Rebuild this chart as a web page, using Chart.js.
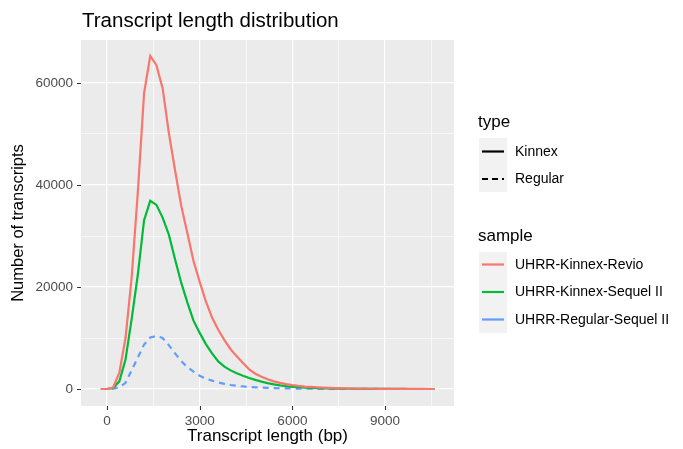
<!DOCTYPE html>
<html>
<head>
<meta charset="utf-8">
<script src="https://cdn.jsdelivr.net/npm/chart.js@4"></script>
<style>
  body { margin: 0; background: #fff; }
  #wrap { position: relative; width: 683px; height: 449px; font-family: "Liberation Sans", Arial, sans-serif; }
  #chart { position: absolute; left: 0; top: 0; }
  .txt { position: absolute; white-space: nowrap; color: #000; }
  .keybox { position: absolute; background: #f2f2f2; }
</style>
</head>
<body>
<div id="wrap">
  <canvas id="chart" width="683" height="449"></canvas>
  <div class="txt" style="left:82px;top:8px;font-size:20.5px;line-height:24px;">Transcript length distribution</div>

  <div class="txt" style="left:478px;top:112px;font-size:17px;line-height:20px;">type</div>
  <div class="keybox" style="left:479px;top:138px;width:28px;height:54px;"></div>
  <svg style="position:absolute;left:479px;top:138px" width="28" height="54">
    <line x1="3" y1="13.5" x2="25" y2="13.5" stroke="#000" stroke-width="2.2"/>
    <line x1="3" y1="41" x2="25" y2="41" stroke="#000" stroke-width="2.2" stroke-dasharray="6,4"/>
  </svg>
  <div class="txt" style="left:515px;top:143px;font-size:14px;line-height:17px;">Kinnex</div>
  <div class="txt" style="left:515px;top:170px;font-size:14px;line-height:17px;">Regular</div>

  <div class="txt" style="left:478px;top:226px;font-size:17px;line-height:20px;">sample</div>
  <div class="keybox" style="left:479px;top:252px;width:28px;height:81px;"></div>
  <svg style="position:absolute;left:479px;top:252px" width="28" height="81">
    <line x1="3" y1="12.5" x2="25" y2="12.5" stroke="#F8766D" stroke-width="2.2"/>
    <line x1="3" y1="40" x2="25" y2="40" stroke="#00BA38" stroke-width="2.2"/>
    <line x1="3" y1="67.5" x2="25" y2="67.5" stroke="#619CFF" stroke-width="2.2"/>
  </svg>
  <div class="txt" style="left:515px;top:256px;font-size:14px;line-height:17px;">UHRR-Kinnex-Revio</div>
  <div class="txt" style="left:515px;top:283px;font-size:14px;line-height:17px;">UHRR-Kinnex-Sequel II</div>
  <div class="txt" style="left:515px;top:311px;font-size:14px;line-height:17px;">UHRR-Regular-Sequel II</div>
</div>
<script>
// transcript length (bp), one point per bin
const lengths = [-200, 0, 200, 400, 600, 800, 1000, 1200, 1400, 1600,
  1800, 2000, 2200, 2400, 2600, 2800, 3000, 3200, 3400, 3600,
  3800, 4000, 4200, 4400, 4600, 4800, 5000, 5200, 5400, 5600,
  5800, 6000, 6200, 6400, 6600, 6800, 7000, 7200, 7400, 7600,
  7800, 8000, 8200, 8400, 8600, 8800, 9000, 9200, 9400, 9600,
  9800, 10000, 10200, 10400, 10600];

const kinnexRevio = [0, 0, 300, 3200, 10000, 22000, 38800, 58000, 65300, 63500,
  59000, 50300, 43000, 36000, 30600, 25100, 21000, 17200, 14000, 11600,
  9600, 7800, 6400, 5100, 3850, 3000, 2400, 1900, 1500, 1200,
  950, 750, 600, 480, 400, 320, 260, 210, 170, 140,
  110, 90, 72, 58, 46, 37, 30, 24, 19, 15,
  12, 9, 7, 5, 3];

const kinnexSequel = [0, 0, 200, 1500, 5800, 13800, 22500, 33100, 36900, 36100,
  33600, 30300, 25500, 20900, 17000, 13400, 11000, 8800, 7000, 5400,
  4400, 3650, 3100, 2600, 2150, 1800, 1450, 1150, 900, 700,
  550, 430, 340, 270, 210, 170, 130, 100, 80, 65,
  50, 40, 32, 26, 20, 16, 13, 10, 8, 6,
  5, 4, 3, 2, 1];

const regularSequel = [0, 0, 50, 350, 1200, 3700, 6200, 8700, 10100, 10400,
  10000, 8600, 7000, 5500, 4300, 3400, 2600, 2050, 1650, 1300,
  1000, 780, 620, 500, 400, 330, 270, 220, 180, 150,
  120, 100, 80, 65, 52, 42, 34, 28, 22, 18,
  15, 12, 10, 8, 7, 6, 5, 4, 3, 3,
  2, 2, 1, 1, 0];

const xTicks = [0, 3000, 6000, 9000];
const xMinor = [1500, 4500, 7500, 10500];
const yTicks = [0, 20000, 40000, 60000];
const yMinor = [10000, 30000, 50000];

const font = '"Liberation Sans", Arial, sans-serif';

function pts(vals) {
  return lengths.map((x, i) => ({ x: x, y: vals[i] }));
}

const panelBg = {
  id: 'panelBg',
  beforeDraw(chart) {
    const a = chart.chartArea, c = chart.ctx;
    c.save();
    c.fillStyle = '#ebebeb';
    c.fillRect(a.left, a.top, a.right - a.left, a.bottom - a.top);
    c.restore();
  },
  // small dark tick marks outside the panel, like ggplot
  afterDraw(chart) {
    const a = chart.chartArea, c = chart.ctx;
    const sx = chart.scales.x, sy = chart.scales.y;
    c.save();
    c.strokeStyle = '#333333';
    c.lineWidth = 1.1;
    c.beginPath();
    xTicks.forEach(v => {
      const px = Math.round(sx.getPixelForValue(v)) + 0.5;
      c.moveTo(px, a.bottom);
      c.lineTo(px, a.bottom + 4);
    });
    yTicks.forEach(v => {
      const py = Math.round(sy.getPixelForValue(v)) + 0.5;
      c.moveTo(a.left - 4, py);
      c.lineTo(a.left, py);
    });
    c.stroke();
    c.restore();
  }
};

function gridOpts(major) {
  return {
    color: '#ffffff',
    lineWidth: ctx => major.includes(ctx.tick.value) ? 1.2 : 0.6,
    drawTicks: true,
    tickLength: 4,
    tickColor: 'rgba(0,0,0,0)'
  };
}

new Chart(document.getElementById('chart'), {
  type: 'line',
  data: {
    datasets: [
      { label: 'UHRR-Kinnex-Revio', data: pts(kinnexRevio), borderColor: '#F8766D' },
      { label: 'UHRR-Kinnex-Sequel II', data: pts(kinnexSequel), borderColor: '#00BA38' },
      { label: 'UHRR-Regular-Sequel II', data: pts(regularSequel), borderColor: '#619CFF', borderDash: [6, 5] }
    ]
  },
  options: {
    responsive: false,
    animation: false,
    devicePixelRatio: 1,
    layout: { padding: { left: 0, top: 40, right: 229, bottom: 0 } },
    plugins: { legend: { display: false }, tooltip: { enabled: false }, title: { display: false } },
    elements: {
      point: { radius: 0 },
      line: { borderWidth: 2.2, tension: 0, fill: false }
    },
    scales: {
      x: {
        type: 'linear',
        min: -841,
        max: 11230,
        afterBuildTicks: s => { s.ticks = xTicks.concat(xMinor).sort((a, b) => a - b).map(v => ({ value: v })); },
        afterFit: s => { s.height = 43; },
        border: { display: false },
        grid: gridOpts(xTicks),
        ticks: {
          autoSkip: false, maxRotation: 0, padding: 3, color: '#4d4d4d',
          font: { family: font, size: 13.5 },
          callback: v => xTicks.includes(v) ? String(v) : ''
        },
        title: {
          display: true, text: 'Transcript length (bp)', color: '#000',
          font: { family: font, size: 17 }, padding: { top: 0, bottom: 2 }
        }
      },
      y: {
        min: -3333,
        max: 68431,
        afterBuildTicks: s => { s.ticks = yTicks.concat(yMinor).sort((a, b) => a - b).map(v => ({ value: v })); },
        afterFit: s => { s.width = 81; },
        border: { display: false },
        grid: gridOpts(yTicks),
        ticks: {
          autoSkip: false, padding: 4, color: '#4d4d4d',
          font: { family: font, size: 13.5 },
          callback: v => yTicks.includes(v) ? String(v) : ''
        },
        title: {
          display: true, text: 'Number of transcripts', color: '#000',
          font: { family: font, size: 16.5 }, padding: { top: 9, bottom: 0 }
        }
      }
    }
  },
  plugins: [panelBg]
});
</script>
</body>
</html>
